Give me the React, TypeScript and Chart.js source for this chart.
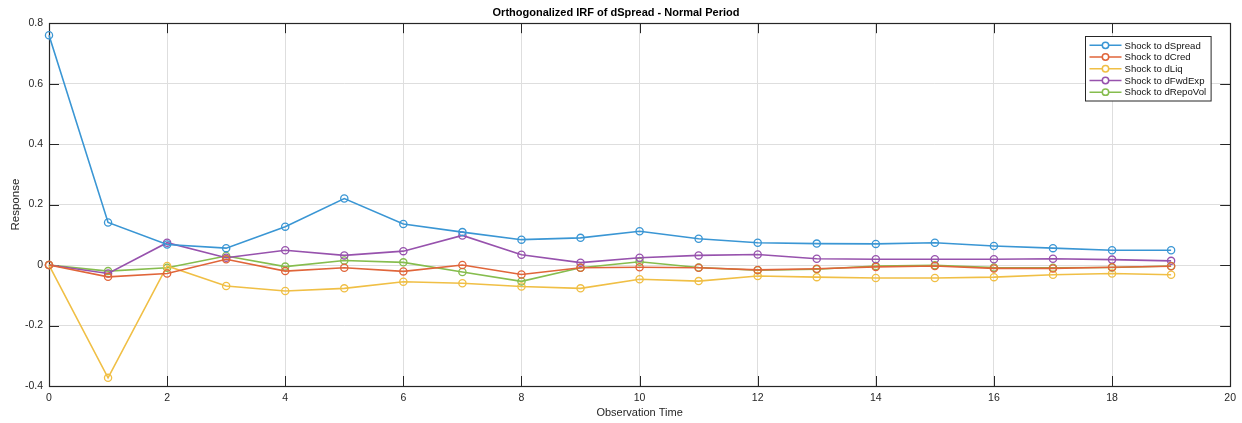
import React, { useEffect, useRef } from "react";
import { Chart, registerables } from "chart.js";

Chart.register(...registerables);

const steps = [0, 1, 2, 3, 4, 5, 6, 7, 8, 9, 10, 11, 12, 13, 14, 15, 16, 17, 18, 19];

const shockToDSpread = [0.76, 0.141, 0.068, 0.056, 0.127, 0.22, 0.136, 0.109, 0.084, 0.09, 0.112, 0.087, 0.074, 0.071, 0.07, 0.074, 0.063, 0.056, 0.049, 0.049];
const shockToDCred = [0, -0.039, -0.028, 0.019, -0.02, -0.009, -0.021, 0.0, -0.031, -0.009, -0.007, -0.009, -0.016, -0.012, -0.006, -0.003, -0.011, -0.011, -0.007, -0.004];
const shockToDLiq = [0, -0.373, -0.003, -0.069, -0.086, -0.077, -0.055, -0.06, -0.071, -0.077, -0.047, -0.053, -0.036, -0.04, -0.043, -0.043, -0.04, -0.032, -0.028, -0.032];
const shockToDFwdExp = [0, -0.028, 0.074, 0.024, 0.049, 0.032, 0.046, 0.098, 0.034, 0.008, 0.024, 0.032, 0.035, 0.021, 0.019, 0.019, 0.019, 0.021, 0.018, 0.014];
const shockToDRepoVol = [0, -0.02, -0.009, 0.03, -0.005, 0.015, 0.009, -0.023, -0.054, -0.009, 0.011, -0.008, -0.017, -0.014, -0.003, -0.001, -0.008, -0.009, -0.008, -0.003];

const seriesLabels = ["Shock to dSpread", "Shock to dCred", "Shock to dLiq", "Shock to dFwdExp", "Shock to dRepoVol"];
const seriesValues = [shockToDSpread, shockToDCred, shockToDLiq, shockToDFwdExp, shockToDRepoVol];
const seriesColors = ["#3a96d4", "#e0653a", "#f0bf45", "#9752ad", "#86bd4e"];

const chartTitle = "Orthogonalized IRF of dSpread - Normal Period";
const xTitle = "Observation Time";
const yTitle = "Response";

const FONT = "'Liberation Sans', Arial, Helvetica, sans-serif";
const AXIS_COLOR = "#262626";

const boxTicksPlugin = {
  id: "boxTicks",
  beforeDatasetsDraw(chart: any) {
    const { ctx, chartArea, scales } = chart;
    const { left, right, top, bottom } = chartArea;
    const xs = scales.x;
    const ys = scales.y;
    const L = 10;
    ctx.save();
    ctx.strokeStyle = AXIS_COLOR;
    ctx.lineWidth = 1;
    ctx.beginPath();
    xs.ticks.forEach((t: any) => {
      const px = Math.round(xs.getPixelForValue(t.value)) + 0.5;
      ctx.moveTo(px, bottom);
      ctx.lineTo(px, bottom - L);
      ctx.moveTo(px, top);
      ctx.lineTo(px, top + L);
    });
    ys.ticks.forEach((t: any) => {
      const py = Math.round(ys.getPixelForValue(t.value)) + 0.5;
      ctx.moveTo(left, py);
      ctx.lineTo(left + L, py);
      ctx.moveTo(right, py);
      ctx.lineTo(right - L, py);
    });
    ctx.stroke();
    ctx.lineWidth = 1.2;
    ctx.strokeRect(Math.round(left) + 0.5, Math.round(top) + 0.5, Math.round(right - left), Math.round(bottom - top));
    ctx.restore();
  },
};

const legendPlugin = {
  id: "boxLegend",
  afterDatasetsDraw(chart: any) {
    const { ctx, chartArea } = chart;
    const datasets = chart.data.datasets;
    ctx.save();
    ctx.font = `9.6px ${FONT}`;
    let maxW = 0;
    datasets.forEach((d: any) => {
      maxW = Math.max(maxW, ctx.measureText(d.label).width);
    });
    const rowH = 11.7;
    const padTop = 3;
    const lineStart = 4;
    const lineLen = 32;
    const textGap = 3;
    const w = lineStart + lineLen + textGap + maxW + 5;
    const h = padTop * 2 + rowH * datasets.length;
    const bx = Math.round(chartArea.right - 20 - w) + 0.5;
    const by = Math.round(chartArea.top + 13) + 0.5;
    ctx.fillStyle = "#ffffff";
    ctx.fillRect(bx, by, w, h);
    ctx.strokeStyle = AXIS_COLOR;
    ctx.lineWidth = 1;
    ctx.strokeRect(bx, by, w, h);
    datasets.forEach((d: any, i: number) => {
      const cy = by + padTop + rowH * i + rowH / 2;
      ctx.strokeStyle = d.borderColor;
      ctx.lineWidth = 1.5;
      ctx.beginPath();
      ctx.moveTo(bx + lineStart, cy);
      ctx.lineTo(bx + lineStart + lineLen, cy);
      ctx.stroke();
      ctx.fillStyle = "#ffffff";
      ctx.beginPath();
      ctx.arc(bx + lineStart + lineLen / 2, cy, 3.2, 0, Math.PI * 2);
      ctx.fill();
      ctx.stroke();
      ctx.fillStyle = "#111111";
      ctx.textBaseline = "middle";
      ctx.textAlign = "left";
      ctx.fillText(d.label, bx + lineStart + lineLen + textGap, cy + 0.5);
    });
    ctx.restore();
  },
};

export default function App() {
  const canvasRef = useRef<HTMLCanvasElement | null>(null);

  useEffect(() => {
    document.body.style.margin = "0";
    const canvas = canvasRef.current;
    if (!canvas) return;
    const datasets = seriesLabels.map((label, i) => ({
      label,
      data: steps.map((s, j) => ({ x: s, y: seriesValues[i][j] })),
      borderColor: seriesColors[i],
      backgroundColor: "rgba(255,255,255,0)",
      borderWidth: 1.6,
      pointRadius: 3.6,
      pointBorderWidth: 1.3,
      pointBackgroundColor: "rgba(255,255,255,0)",
      pointBorderColor: seriesColors[i],
      tension: 0,
      clip: false as any,
    }));
    const chart = new Chart(canvas, {
      type: "line",
      data: { datasets },
      plugins: [boxTicksPlugin, legendPlugin],
      options: {
        responsive: false,
        animation: false,
        layout: { padding: { left: 0, right: 10, top: 0, bottom: 0 } },
        plugins: {
          legend: { display: false },
          tooltip: { enabled: false },
          title: {
            display: true,
            text: chartTitle,
            color: "#000000",
            font: { family: FONT, size: 11, weight: "bold" },
            padding: { top: 6, bottom: 4 },
          },
        },
        scales: {
          x: {
            type: "linear",
            min: 0,
            max: 20,
            afterFit(scale: any) {
              scale.height = 37;
            },
            ticks: {
              stepSize: 2,
              autoSkip: false,
              maxRotation: 0,
              padding: 6,
              color: AXIS_COLOR,
              font: { family: FONT, size: 10.5 },
            },
            grid: { color: "#dedede", lineWidth: 1, drawTicks: false },
            border: { display: false },
            title: {
              display: true,
              text: xTitle,
              color: AXIS_COLOR,
              font: { family: FONT, size: 11 },
              padding: { top: 0, bottom: 3 },
            },
          },
          y: {
            type: "linear",
            min: -0.4,
            max: 0.8,
            afterFit(scale: any) {
              scale.width = 49;
            },
            ticks: {
              stepSize: 0.2,
              autoSkip: false,
              padding: 6,
              color: AXIS_COLOR,
              font: { family: FONT, size: 10.5 },
              callback: (v: any) => String(parseFloat(Number(v).toFixed(1))),
            },
            grid: { color: "#dedede", lineWidth: 1, drawTicks: false },
            border: { display: false },
            title: {
              display: true,
              text: yTitle,
              color: AXIS_COLOR,
              font: { family: FONT, size: 11.5 },
              padding: { top: 9, bottom: 0 },
            },
          },
        },
      },
    });
    return () => chart.destroy();
  }, []);

  return (
    <div style={{ position: "fixed", left: 0, top: 0, width: 1242, height: 423, background: "#ffffff" }}>
      <canvas ref={canvasRef} width={1242} height={423} style={{ width: 1242, height: 423, display: "block" }} />
    </div>
  );
}
